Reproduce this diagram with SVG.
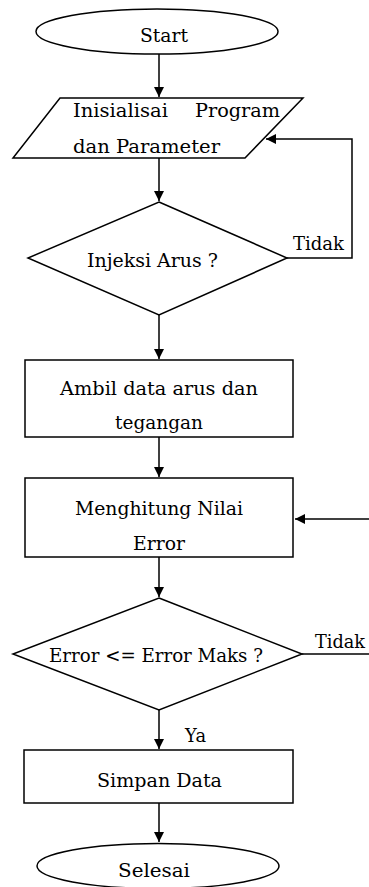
<svg xmlns="http://www.w3.org/2000/svg" width="369" height="887" viewBox="0 0 369 887">
<style>
.s{fill:#fff;stroke:#000;stroke-width:1.5}
.t{font-family:"DejaVu Serif","Liberation Serif",serif;font-size:18.5px;fill:#000}
.c{fill:none;stroke:#000;stroke-width:1.5}
</style>
<defs>
<marker id="a" markerWidth="11" markerHeight="12" refX="10" refY="5.5" orient="auto" markerUnits="userSpaceOnUse">
<path d="M0,0.5 L10,5.5 L0,10.5 Z" fill="#000"/>
</marker>
</defs>
<rect width="369" height="887" fill="#fff"/>
<g id="connectors">
<line class="c" x1="159" y1="54" x2="159" y2="97" marker-end="url(#a)"/>
<line class="c" x1="159" y1="158" x2="159" y2="201" marker-end="url(#a)"/>
<polyline class="c" points="287,258 352,258 352,139 266,139" marker-end="url(#a)"/>
<line class="c" x1="159" y1="315" x2="159" y2="359" marker-end="url(#a)"/>
<line class="c" x1="159" y1="437" x2="159" y2="477" marker-end="url(#a)"/>
<line class="c" x1="369" y1="519" x2="295" y2="519" marker-end="url(#a)"/>
<line class="c" x1="159" y1="557" x2="159" y2="597" marker-end="url(#a)"/>
<line class="c" x1="302" y1="654" x2="369" y2="654"/>
<line class="c" x1="159" y1="710" x2="159" y2="749" marker-end="url(#a)"/>
<line class="c" x1="159" y1="803" x2="159" y2="842" marker-end="url(#a)"/>
<text class="t" x="293" y="250" textLength="51" lengthAdjust="spacingAndGlyphs">Tidak</text>
<text class="t" x="315" y="648" textLength="50" lengthAdjust="spacingAndGlyphs">Tidak</text>
<text class="t" x="185" y="742" textLength="21" lengthAdjust="spacingAndGlyphs">Ya</text>
</g>
<g id="start">
<ellipse class="s" cx="157" cy="31.5" rx="121" ry="22.5"/>
<text class="t" x="140" y="42" textLength="48" lengthAdjust="spacingAndGlyphs">Start</text>
</g>
<g id="init">
<polygon class="s" points="60,98 303,98 245,158 13,158"/>
<text class="t" x="73" y="117" textLength="95" lengthAdjust="spacingAndGlyphs">Inisialisai</text>
<text class="t" x="195" y="117" textLength="85" lengthAdjust="spacingAndGlyphs">Program</text>
<text class="t" x="73" y="153" textLength="147" lengthAdjust="spacingAndGlyphs">dan Parameter</text>
</g>
<g id="injeksi">
<polygon class="s" points="159,202 287,258 159,315 28,258"/>
<text class="t" x="87" y="267" textLength="131" lengthAdjust="spacingAndGlyphs">Injeksi Arus ?</text>
</g>
<g id="ambil">
<rect class="s" x="25" y="360" width="268" height="77"/>
<text class="t" x="60" y="395" textLength="198" lengthAdjust="spacingAndGlyphs">Ambil data arus dan</text>
<text class="t" x="115" y="429" textLength="88" lengthAdjust="spacingAndGlyphs">tegangan</text>
</g>
<g id="hitung">
<rect class="s" x="25" y="478" width="268" height="79"/>
<text class="t" x="75" y="515" textLength="168" lengthAdjust="spacingAndGlyphs">Menghitung Nilai</text>
<text class="t" x="133" y="550" textLength="52" lengthAdjust="spacingAndGlyphs">Error</text>
</g>
<g id="cek">
<polygon class="s" points="159,598 302,654 159,710 13,654"/>
<text class="t" x="49" y="662" textLength="214" lengthAdjust="spacingAndGlyphs">Error &lt;= Error Maks ?</text>
</g>
<g id="simpan">
<rect class="s" x="24" y="750" width="269" height="53"/>
<text class="t" x="97" y="787" textLength="125" lengthAdjust="spacingAndGlyphs">Simpan Data</text>
</g>
<g id="selesai">
<ellipse class="s" cx="158" cy="866" rx="121" ry="22.5"/>
<text class="t" x="118" y="877" textLength="72" lengthAdjust="spacingAndGlyphs">Selesai</text>
</g>
</svg>
